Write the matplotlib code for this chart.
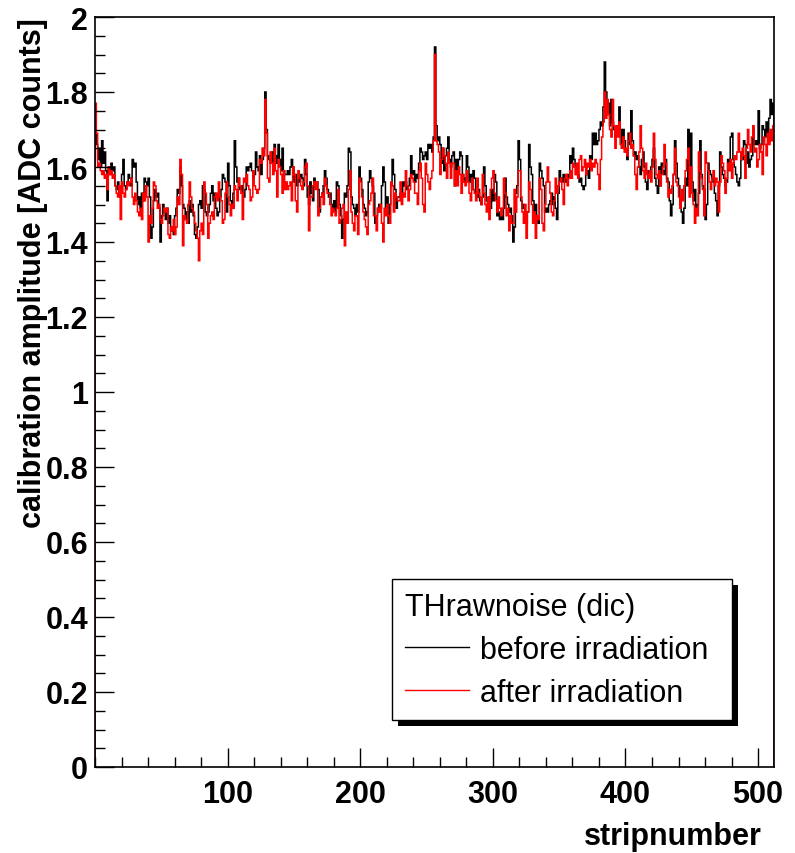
import numpy as np
import matplotlib
matplotlib.use("Agg")
import matplotlib.pyplot as plt
from matplotlib.ticker import MultipleLocator, FixedLocator, FuncFormatter
from matplotlib.patches import Rectangle

# calibration amplitude per strip (512 strips)
before = [
    1.69, 1.66, 1.62, 1.65, 1.60, 1.67, 1.61, 1.64, 1.59, 1.51, 1.60, 1.58, 1.61, 1.59, 1.60, 1.55,
    1.54, 1.56, 1.53, 1.54, 1.58, 1.62, 1.55, 1.54, 1.56, 1.58, 1.57, 1.55, 1.62, 1.60, 1.61, 1.56,
    1.50, 1.52, 1.49, 1.53, 1.51, 1.57, 1.56, 1.55, 1.57, 1.52, 1.41, 1.44, 1.51, 1.54, 1.52, 1.53,
    1.49, 1.40, 1.47, 1.50, 1.48, 1.46, 1.49, 1.45, 1.47, 1.43, 1.44, 1.42, 1.47, 1.49, 1.54, 1.53,
    1.60, 1.55, 1.50, 1.49, 1.46, 1.48, 1.45, 1.51, 1.48, 1.50, 1.47, 1.42, 1.41, 1.44, 1.50, 1.51,
    1.49, 1.55, 1.54, 1.48, 1.47, 1.48, 1.50, 1.53, 1.55, 1.51, 1.53, 1.49, 1.47, 1.48, 1.52, 1.54,
    1.58, 1.57, 1.56, 1.48, 1.61, 1.55, 1.51, 1.50, 1.53, 1.67, 1.60, 1.56, 1.57, 1.54, 1.55, 1.53,
    1.52, 1.54, 1.60, 1.59, 1.60, 1.61, 1.59, 1.57, 1.58, 1.64, 1.60, 1.59, 1.63, 1.58, 1.62, 1.65,
    1.80, 1.70, 1.63, 1.62, 1.61, 1.64, 1.60, 1.66, 1.63, 1.61, 1.66, 1.62, 1.59, 1.65, 1.59, 1.58,
    1.58, 1.59, 1.58, 1.60, 1.62, 1.60, 1.56, 1.58, 1.55, 1.57, 1.56, 1.58, 1.57, 1.55, 1.62, 1.58,
    1.52, 1.50, 1.56, 1.53, 1.51, 1.57, 1.55, 1.56, 1.54, 1.48, 1.52, 1.53, 1.55, 1.59, 1.57, 1.54,
    1.52, 1.53, 1.50, 1.49, 1.51, 1.48, 1.56, 1.55, 1.50, 1.47, 1.41, 1.46, 1.53, 1.52, 1.55, 1.65,
    1.64, 1.52, 1.50, 1.49, 1.47, 1.50, 1.48, 1.60, 1.57, 1.54, 1.50, 1.49, 1.47, 1.48, 1.56, 1.59,
    1.57, 1.55, 1.53, 1.45, 1.47, 1.49, 1.50, 1.49, 1.55, 1.60, 1.56, 1.48, 1.52, 1.45, 1.50, 1.55,
    1.62, 1.58, 1.54, 1.49, 1.52, 1.52, 1.53, 1.52, 1.56, 1.55, 1.56, 1.54, 1.55, 1.57, 1.63, 1.58,
    1.59, 1.56, 1.58, 1.57, 1.61, 1.65, 1.64, 1.62, 1.63, 1.64, 1.62, 1.66, 1.65, 1.66, 1.64, 1.68,
    1.92, 1.71, 1.67, 1.68, 1.66, 1.61, 1.65, 1.59, 1.63, 1.65, 1.68, 1.62, 1.60, 1.63, 1.64, 1.55,
    1.62, 1.59, 1.62, 1.64, 1.63, 1.58, 1.56, 1.57, 1.63, 1.60, 1.56, 1.58, 1.54, 1.59, 1.57, 1.53,
    1.52, 1.54, 1.51, 1.50, 1.52, 1.60, 1.55, 1.51, 1.50, 1.52, 1.49, 1.54, 1.51, 1.58, 1.56, 1.47,
    1.48, 1.46, 1.47, 1.46, 1.49, 1.57, 1.52, 1.50, 1.48, 1.49, 1.47, 1.40, 1.44, 1.53, 1.55, 1.67,
    1.62, 1.51, 1.49, 1.50, 1.47, 1.45, 1.48, 1.66, 1.60, 1.58, 1.51, 1.48, 1.50, 1.47, 1.45, 1.61,
    1.59, 1.57, 1.55, 1.48, 1.49, 1.48, 1.50, 1.51, 1.53, 1.50, 1.52, 1.49, 1.46, 1.53, 1.59, 1.57,
    1.56, 1.58, 1.57, 1.56, 1.58, 1.57, 1.63, 1.61, 1.65, 1.62, 1.60, 1.58, 1.58, 1.56, 1.57, 1.55,
    1.54, 1.55, 1.58, 1.59, 1.57, 1.63, 1.62, 1.69, 1.66, 1.69, 1.66, 1.67, 1.70, 1.72, 1.71, 1.76,
    1.88, 1.80, 1.74, 1.77, 1.71, 1.78, 1.72, 1.70, 1.68, 1.69, 1.71, 1.76, 1.70, 1.65, 1.70, 1.67,
    1.64, 1.62, 1.69, 1.66, 1.75, 1.67, 1.63, 1.64, 1.62, 1.63, 1.60, 1.58, 1.62, 1.64, 1.60, 1.56,
    1.54, 1.59, 1.58, 1.60, 1.62, 1.65, 1.57, 1.55, 1.53, 1.60, 1.55, 1.61, 1.59, 1.58, 1.62, 1.57,
    1.56, 1.51, 1.47, 1.50, 1.58, 1.67, 1.61, 1.57, 1.55, 1.50, 1.48, 1.45, 1.49, 1.57, 1.55, 1.70,
    1.55, 1.69, 1.56, 1.51, 1.54, 1.48, 1.50, 1.53, 1.67, 1.58, 1.55, 1.54, 1.46, 1.50, 1.61, 1.59,
    1.58, 1.57, 1.56, 1.53, 1.51, 1.47, 1.55, 1.64, 1.60, 1.58, 1.57, 1.55, 1.56, 1.62, 1.61, 1.68,
    1.69, 1.62, 1.60, 1.58, 1.56, 1.55, 1.57, 1.64, 1.62, 1.67, 1.66, 1.61, 1.64, 1.60, 1.62, 1.63,
    1.70, 1.66, 1.67, 1.66, 1.75, 1.65, 1.66, 1.71, 1.70, 1.68, 1.72, 1.69, 1.73, 1.78, 1.74, 1.77,
]

after = [
    1.77, 1.69, 1.60, 1.61, 1.59, 1.58, 1.59, 1.57, 1.58, 1.54, 1.60, 1.58, 1.59, 1.57, 1.58, 1.55,
    1.53, 1.52, 1.55, 1.46, 1.56, 1.53, 1.52, 1.54, 1.56, 1.55, 1.56, 1.57, 1.52, 1.50, 1.53, 1.51,
    1.48, 1.47, 1.49, 1.46, 1.53, 1.51, 1.55, 1.52, 1.40, 1.47, 1.45, 1.49, 1.56, 1.55, 1.51, 1.49,
    1.50, 1.46, 1.45, 1.47, 1.49, 1.48, 1.49, 1.42, 1.41, 1.44, 1.43, 1.46, 1.42, 1.44, 1.52, 1.50,
    1.62, 1.58, 1.39, 1.47, 1.46, 1.45, 1.50, 1.56, 1.52, 1.49, 1.48, 1.45, 1.43, 1.41, 1.35, 1.43,
    1.45, 1.42, 1.56, 1.53, 1.50, 1.41, 1.45, 1.47, 1.48, 1.46, 1.52, 1.53, 1.51, 1.56, 1.52, 1.51,
    1.45, 1.46, 1.53, 1.56, 1.52, 1.50, 1.47, 1.50, 1.49, 1.55, 1.54, 1.51, 1.57, 1.55, 1.53, 1.46,
    1.57, 1.56, 1.58, 1.55, 1.54, 1.51, 1.52, 1.59, 1.55, 1.54, 1.53, 1.54, 1.62, 1.61, 1.65, 1.63,
    1.78, 1.69, 1.57, 1.56, 1.64, 1.61, 1.58, 1.65, 1.59, 1.52, 1.62, 1.60, 1.58, 1.53, 1.59, 1.54,
    1.56, 1.54, 1.55, 1.56, 1.51, 1.60, 1.58, 1.51, 1.48, 1.59, 1.57, 1.55, 1.54, 1.56, 1.60, 1.61,
    1.55, 1.43, 1.52, 1.52, 1.55, 1.56, 1.54, 1.56, 1.47, 1.49, 1.52, 1.53, 1.50, 1.57, 1.55, 1.53,
    1.53, 1.50, 1.47, 1.49, 1.48, 1.47, 1.49, 1.54, 1.45, 1.46, 1.49, 1.50, 1.39, 1.48, 1.45, 1.54,
    1.59, 1.48, 1.45, 1.43, 1.47, 1.47, 1.42, 1.57, 1.56, 1.52, 1.48, 1.46, 1.44, 1.42, 1.50, 1.51,
    1.53, 1.57, 1.47, 1.47, 1.43, 1.49, 1.48, 1.50, 1.45, 1.40, 1.49, 1.47, 1.50, 1.47, 1.45, 1.56,
    1.55, 1.48, 1.53, 1.52, 1.51, 1.51, 1.56, 1.50, 1.53, 1.52, 1.59, 1.55, 1.51, 1.54, 1.58, 1.57,
    1.56, 1.53, 1.53, 1.50, 1.59, 1.61, 1.57, 1.50, 1.48, 1.61, 1.58, 1.56, 1.54, 1.57, 1.59, 1.67,
    1.90, 1.67, 1.66, 1.64, 1.58, 1.62, 1.65, 1.63, 1.61, 1.57, 1.64, 1.61, 1.57, 1.61, 1.61, 1.55,
    1.59, 1.55, 1.60, 1.58, 1.53, 1.58, 1.56, 1.55, 1.59, 1.56, 1.53, 1.51, 1.57, 1.54, 1.53, 1.51,
    1.57, 1.53, 1.52, 1.50, 1.58, 1.53, 1.50, 1.48, 1.52, 1.46, 1.54, 1.57, 1.59, 1.53, 1.51, 1.48,
    1.52, 1.49, 1.47, 1.49, 1.57, 1.53, 1.47, 1.49, 1.43, 1.47, 1.45, 1.45, 1.54, 1.48, 1.52, 1.59,
    1.59, 1.52, 1.48, 1.45, 1.50, 1.41, 1.48, 1.56, 1.54, 1.50, 1.45, 1.48, 1.41, 1.47, 1.46, 1.57,
    1.54, 1.45, 1.43, 1.50, 1.56, 1.60, 1.56, 1.53, 1.48, 1.47, 1.51, 1.57, 1.53, 1.55, 1.56, 1.57,
    1.54, 1.50, 1.57, 1.58, 1.55, 1.57, 1.59, 1.57, 1.61, 1.60, 1.58, 1.61, 1.57, 1.62, 1.63, 1.59,
    1.60, 1.62, 1.58, 1.61, 1.60, 1.62, 1.59, 1.61, 1.60, 1.62, 1.61, 1.58, 1.54, 1.62, 1.68, 1.72,
    1.80, 1.73, 1.78, 1.74, 1.70, 1.68, 1.78, 1.71, 1.65, 1.71, 1.68, 1.72, 1.66, 1.65, 1.68, 1.64,
    1.65, 1.63, 1.67, 1.69, 1.65, 1.66, 1.63, 1.58, 1.54, 1.60, 1.64, 1.71, 1.65, 1.59, 1.57, 1.61,
    1.58, 1.57, 1.59, 1.56, 1.60, 1.69, 1.62, 1.58, 1.57, 1.59, 1.55, 1.58, 1.60, 1.66, 1.61, 1.56,
    1.52, 1.54, 1.53, 1.55, 1.58, 1.65, 1.56, 1.55, 1.52, 1.49, 1.54, 1.51, 1.55, 1.59, 1.62, 1.65,
    1.52, 1.60, 1.53, 1.50, 1.45, 1.49, 1.47, 1.64, 1.59, 1.57, 1.54, 1.47, 1.64, 1.61, 1.59, 1.56,
    1.54, 1.57, 1.59, 1.55, 1.57, 1.56, 1.48, 1.56, 1.63, 1.61, 1.59, 1.53, 1.57, 1.61, 1.59, 1.62,
    1.57, 1.61, 1.63, 1.62, 1.64, 1.69, 1.64, 1.62, 1.65, 1.63, 1.57, 1.65, 1.70, 1.66, 1.64, 1.68,
    1.71, 1.64, 1.65, 1.60, 1.62, 1.66, 1.64, 1.58, 1.68, 1.66, 1.63, 1.69, 1.66, 1.70, 1.67, 1.71,
]

x_ticks = [100, 200, 300, 400, 500]
legend_title = "THrawnoise (dic)"
labels = ["before irradiation", "after irradiation"]

plt.rcParams['font.family'] = ['Liberation Sans', 'DejaVu Sans']

W, H = 795, 854
fig = plt.figure(figsize=(W / 100, H / 100), dpi=100)
# axes frame in pixels: x 95..774, y 18..768
ax = fig.add_axes([95 / W, 1 - 768 / H, (774 - 95) / W, (768 - 18) / H])

edges = np.arange(len(before) + 1)
ax.stairs(before, edges, color='black', lw=1.1, label=labels[0])
ax.stairs(after, edges, color='red', lw=1.1, label=labels[1])

ax.set_xlim(0, len(before))
ax.set_ylim(0, 2)

ax.xaxis.set_major_locator(FixedLocator(x_ticks))
ax.xaxis.set_minor_locator(MultipleLocator(20))
ax.yaxis.set_major_locator(MultipleLocator(0.2))
ax.yaxis.set_minor_locator(MultipleLocator(0.05))
fmt = FuncFormatter(lambda v, _: f"{v:g}")
ax.xaxis.set_major_formatter(fmt)
ax.yaxis.set_major_formatter(fmt)

ax.tick_params(which='both', direction='in', top=False, right=False, width=1)
ax.tick_params(which='major', length=14)
ax.tick_params(which='minor', length=7)
ax.tick_params(axis='x', which='major', pad=9, labelsize=22)
ax.tick_params(axis='y', which='major', pad=5, labelsize=22)
for lab in ax.get_xticklabels() + ax.get_yticklabels():
    lab.set_fontweight('bold')
for sp in ax.spines.values():
    sp.set_linewidth(1.2)

ax.set_xlabel("stripnumber", fontsize=22, fontweight='bold', loc='right')
ax.xaxis.set_label_coords(0.982, -0.072)
ax.set_ylabel("calibration amplitude [ADC counts]", fontsize=22, fontweight='bold', loc='top')
ax.yaxis.set_label_coords(-0.069, 1.0)

# legend box: x 392..732, y 580..720 (pixels from top-left)
leg = ax.legend(title=legend_title, loc='upper left', mode='expand',
                bbox_to_anchor=(392 / W, 1 - 720 / H, 340 / W, 140 / H),
                bbox_transform=fig.transFigure,
                borderaxespad=0, fancybox=False, framealpha=1, edgecolor='black',
                fontsize=22, title_fontsize=22, alignment='left',
                handlelength=2.1, handletextpad=0.36, labelspacing=0.42,
                borderpad=0.42)
leg.get_frame().set_linewidth(1)
for h in leg.legend_handles:
    h.set_linewidth(1)

# drop shadow of the legend box
fig.canvas.draw()
bb = leg.get_window_extent()
shadow = Rectangle((bb.x0 + 6, bb.y0 - 6), bb.width, bb.height, transform=None,
                   facecolor='black', edgecolor='none', zorder=4.9)
ax.add_artist(shadow)

fig.savefig("out.png", dpi=100)
